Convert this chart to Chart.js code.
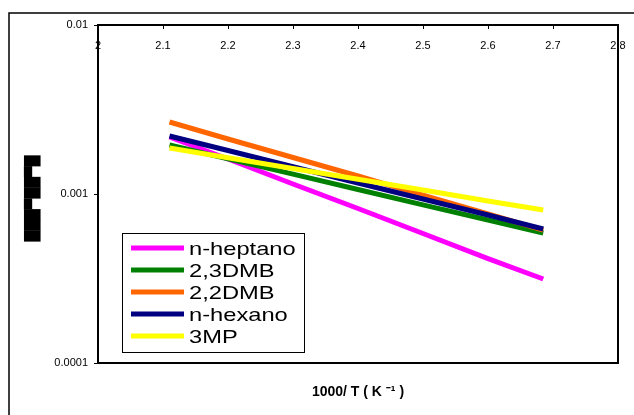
<!DOCTYPE html>
<html>
<head>
<meta charset="utf-8">
<script src="https://cdn.jsdelivr.net/npm/chart.js@4/dist/chart.umd.min.js"></script>
<style>
  html, body { margin: 0; padding: 0; background: #fff; }
  #wrap { width: 634px; height: 415px; }
</style>
</head>
<body>
<div id="wrap"><canvas id="arrChart"></canvas></div>
<script>
// 1000/T values (K^-1)
const invT = [2.11, 2.2, 2.3, 2.4, 2.5, 2.6, 2.685];

const seriesNames = ['n-heptano', '2,3DMB', '2,2DMB', 'n-hexano', '3MP'];
const seriesColors = ['#FF00FF', '#008000', '#FF6600', '#000080', '#FFFF00'];

const heptano = [2.174e-3, 1.611e-3, 1.146e-3, 8.21e-4, 5.84e-4, 4.15e-4, 3.14e-4];
const dmb23 = [1.950e-3, 1.615e-3, 1.311e-3, 1.063e-3, 8.63e-4, 7.02e-4, 5.88e-4];
const dmb22 = [2.667e-3, 2.116e-3, 1.644e-3, 1.278e-3, 9.86e-4, 7.62e-4, 6.12e-4];
const hexano = [2.204e-3, 1.809e-3, 1.450e-3, 1.162e-3, 9.34e-4, 7.51e-4, 6.21e-4];
const mp3 = [1.871e-3, 1.640e-3, 1.415e-3, 1.222e-3, 1.057e-3, 9.10e-4, 8.04e-4];

const seriesValues = [heptano, dmb23, dmb22, hexano, mp3];
// drawing order: 3MP on top, n-heptano at the bottom
const drawOrder = [5, 4, 3, 2, 1];

const yTicks = [0.0001, 0.001, 0.01];

// frame around plot, inside tick marks on top axis, outer box
const framePlugin = {
    id: 'frames',
    afterDraw(chart) {
        const { ctx, chartArea: a } = chart;
        const xs = chart.scales.x;
        ctx.save();
        ctx.strokeStyle = '#000';
        ctx.lineWidth = 1;
        xs.ticks.forEach(t => {
            const px = Math.round(xs.getPixelForValue(t.value)) + 0.5;
            ctx.beginPath();
            ctx.moveTo(px, a.top);
            ctx.lineTo(px, a.top + 4);
            ctx.stroke();
        });
        ctx.lineWidth = 2;
        ctx.strokeRect(a.left, a.top, a.right - a.left, a.bottom - a.top);
        ctx.lineWidth = 1.5;
        ctx.strokeRect(9, 13, 700, 500);
        ctx.restore();
    }
};

// legend box inside the plot, bottom left
const boxLegend = {
    id: 'boxLegend',
    afterDatasetsDraw(chart) {
        const { ctx, chartArea: a } = chart;
        const bx = a.left + 24, by = a.top + 208, bw = 182, bh = 119;
        ctx.save();
        ctx.fillStyle = '#fff';
        ctx.fillRect(bx, by, bw, bh);
        ctx.strokeStyle = '#000';
        ctx.lineWidth = 1;
        ctx.strokeRect(bx + 0.5, by + 0.5, bw, bh);
        chart.data.datasets.forEach((ds, i) => {
            const ly = by + 15 + i * 22;
            ctx.fillStyle = ds.borderColor;
            ctx.fillRect(bx + 9, ly - 2.5, 53, 5);
            ctx.save();
            ctx.translate(bx + 67, ly + 7);
            ctx.scale(1.28, 1);
            ctx.fillStyle = '#000';
            ctx.font = '18.5px Arial, "Liberation Sans", sans-serif';
            ctx.textBaseline = 'alphabetic';
            ctx.fillText(ds.label, 0, 0);
            ctx.restore();
        });
        ctx.restore();
    }
};

const datasets = seriesNames.map((name, i) => ({
    label: name,
    data: invT.map((x, j) => ({ x: x, y: seriesValues[i][j] })),
    borderColor: seriesColors[i],
    backgroundColor: seriesColors[i],
    borderWidth: 5,
    pointRadius: 0,
    tension: 0,
    fill: false,
    order: drawOrder[i]
}));

const tickFont = { family: 'Arial, "Liberation Sans", sans-serif', size: 11 };

new Chart(document.getElementById('arrChart'), {
    type: 'line',
    data: { datasets: datasets },
    options: {
        responsive: true,
        maintainAspectRatio: false,
        animation: false,
        layout: { padding: { left: 0, right: 16, top: 0, bottom: 0 } },
        plugins: {
            legend: { display: false },
            tooltip: { enabled: false }
        },
        scales: {
            x: {
                type: 'linear',
                position: 'top',
                min: 2,
                max: 2.8,
                afterFit: (scale) => {
                    scale.height = 25;
                    scale.paddingLeft = 0;
                    scale.paddingRight = 0;
                },
                grid: { display: false },
                border: { display: true, color: '#000', width: 2 },
                ticks: {
                    stepSize: 0.1,
                    autoSkip: false,
                    maxRotation: 0,
                    mirror: true,
                    padding: 14.5,
                    color: '#000',
                    font: tickFont,
                    callback: (v) => String(Math.round(v * 10) / 10)
                }
            },
            x2: {
                type: 'linear',
                position: 'bottom',
                min: 2,
                max: 2.8,
                afterFit: (scale) => { scale.height = 52; },
                grid: { display: false },
                border: { display: false },
                ticks: { display: false },
                title: {
                    display: true,
                    text: '1000/ T ( K ⁻¹ )',
                    color: '#000',
                    font: { family: 'Arial, "Liberation Sans", sans-serif', size: 14, weight: 'bold' },
                    padding: { top: 0, bottom: 14 }
                }
            },
            y: {
                type: 'logarithmic',
                position: 'left',
                min: 0.0001,
                max: 0.01,
                afterFit: (scale) => { scale.width = 98; },
                afterBuildTicks: (scale) => { scale.ticks = yTicks.map(v => ({ value: v })); },
                grid: { display: true, drawOnChartArea: false, drawTicks: true, tickLength: 4, color: '#000' },
                border: { display: true, color: '#000', width: 2 },
                ticks: {
                    padding: 6,
                    color: '#000',
                    font: tickFont,
                    callback: (v) => String(v)
                },
                title: {
                    display: true,
                    text: '███▀██▀█  ',
                    color: '#000',
                    font: { family: '"DejaVu Sans"', size: 14, lineHeight: 1.2 },
                    padding: { top: 25, bottom: 0 }
                }
            }
        }
    },
    plugins: [framePlugin, boxLegend]
});
</script>
</body>
</html>
